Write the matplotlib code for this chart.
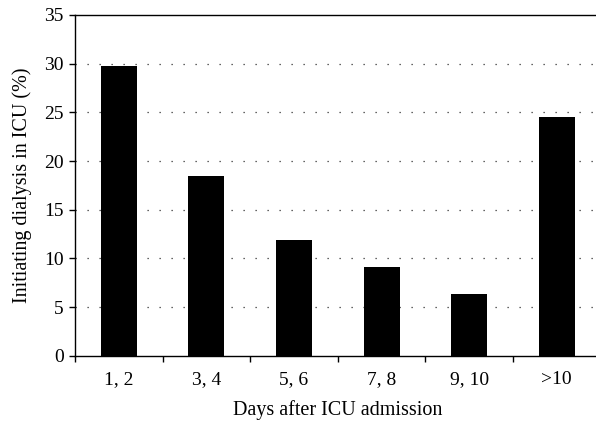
import matplotlib.pyplot as plt
import numpy as np

categories = ['1, 2', '3, 4', '5, 6', '7, 8', '9, 10', '>10']
values = [29.8, 18.5, 11.9, 9.1, 6.3, 24.5]
yticks = [0, 5, 10, 15, 20, 25, 30, 35]

plt.rcParams['font.family'] = ['Liberation Serif', 'DejaVu Serif']

fig = plt.figure(figsize=(5.96, 4.23), dpi=100)
ax = fig.add_axes([75 / 596, 1 - 355.7 / 423, 525.6 / 596, 340.7 / 423])

x = np.arange(len(categories))
ax.bar(x, values, width=0.41, color='black', zorder=3)

ax.set_xlim(-0.5, len(categories) - 0.5)
ax.set_ylim(0, 35)
ax.set_yticks(yticks)
ax.set_xticks(x)
ax.set_xticklabels(categories)
ax.set_xticks(np.arange(len(categories) + 1) - 0.5, minor=True)
ax.tick_params(axis='x', which='major', length=0, pad=11, labelsize=14)
ax.tick_params(axis='x', which='minor', length=4, direction='out', width=1)
ax.tick_params(axis='y', length=4, direction='out', width=1, labelsize=14, pad=4)

# dotted grid, dots about 12 px apart
for v in yticks[1:-1]:
    ax.axhline(v, color='#333333', linestyle=(0, (1, 8.6)), linewidth=0.9, zorder=1)

ax.spines['right'].set_visible(False)
for s in ['left', 'top', 'bottom']:
    ax.spines[s].set_linewidth(1.0)

ax.set_xlabel('Days after ICU admission', fontsize=14.5, labelpad=9)
ax.set_ylabel('Initiating dialysis in ICU (%)', fontsize=14.5, labelpad=9)

fig.savefig('out.png', dpi=100)
